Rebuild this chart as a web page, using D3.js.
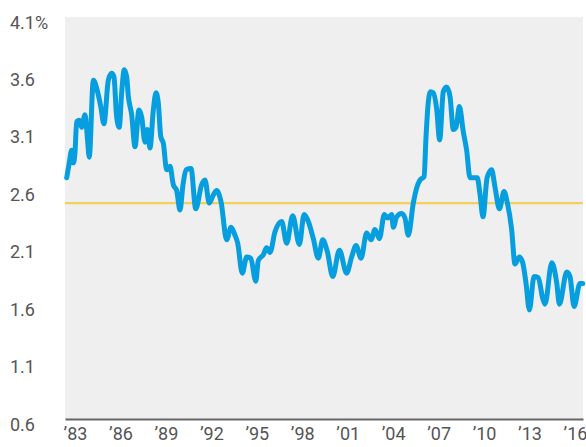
<!DOCTYPE html>
<html>
<head>
<meta charset="utf-8">
<script src="https://cdn.jsdelivr.net/npm/d3@7"></script>
<style>
  body { margin: 0; background: #fff; }
  svg text { font-family: "Liberation Sans Narrow", "Roboto", sans-serif; fill: #555; }
</style>
</head>
<body>
<div id="chart"></div>
<script>
// decimal year of each reading
var years = [
  1982.45, 1982.62, 1982.78, 1982.89, 1983.00, 1983.11, 1983.28, 1983.44, 1983.66, 1983.81,
  1983.94, 1984.21, 1984.47, 1984.70, 1984.91, 1985.20, 1985.42, 1985.57, 1985.75, 1985.92,
  1986.08, 1986.25, 1986.41, 1986.52, 1986.74, 1986.96, 1987.22, 1987.40, 1987.62, 1987.77,
  1987.95, 1988.17, 1988.35, 1988.50, 1988.66, 1988.83, 1989.05, 1989.27, 1989.49, 1989.71,
  1989.93, 1990.13, 1990.33, 1990.66, 1990.97, 1991.36, 1991.58, 1991.86, 1992.13, 1992.35,
  1992.64, 1993.01, 1993.30, 1993.56, 1993.74, 1994.04, 1994.33, 1994.60, 1994.93, 1995.10,
  1995.43, 1995.65, 1995.87, 1996.20, 1996.64, 1996.97, 1997.37, 1997.81, 1998.12, 1998.40,
  1998.73, 1999.06, 1999.35, 1999.65, 2000.01, 2000.45, 2000.93, 2001.26, 2001.55, 2001.88,
  2002.25, 2002.54, 2002.80, 2003.09, 2003.42, 2003.64, 2003.90, 2004.01, 2004.23, 2004.56,
  2004.78, 2005.00, 2005.33, 2005.55, 2005.77, 2006.04, 2006.17, 2006.32, 2006.47, 2006.65,
  2006.87, 2007.07, 2007.31, 2007.53, 2007.75, 2007.97, 2008.15, 2008.37, 2008.63, 2008.85,
  2009.07, 2009.34, 2009.55, 2009.73, 2009.93, 2010.20, 2010.50, 2010.72, 2011.01, 2011.32,
  2011.54, 2011.82, 2012.04, 2012.33, 2012.55, 2012.77, 2012.99, 2013.30, 2013.58, 2013.87,
  2014.02, 2014.47, 2014.80, 2014.97, 2015.46, 2015.67, 2015.94, 2016.33, 2016.51
];

// rate (%) at each reading
var rates = [
  2.70, 2.83, 2.94, 2.83, 2.92, 3.19, 3.20, 3.14, 3.25, 3.06,
  2.88, 3.55, 3.46, 3.32, 3.17, 3.55, 3.61, 3.58, 3.23, 3.14,
  3.44, 3.64, 3.58, 3.41, 3.25, 2.97, 3.29, 3.23, 3.01, 3.12,
  2.96, 3.29, 3.44, 3.35, 3.06, 3.00, 2.77, 2.80, 2.64, 2.59,
  2.42, 2.64, 2.77, 2.78, 2.43, 2.64, 2.68, 2.48, 2.55, 2.59,
  2.49, 2.16, 2.27, 2.20, 2.13, 1.87, 2.01, 2.00, 1.80, 1.98,
  2.03, 2.09, 2.05, 2.23, 2.32, 2.13, 2.37, 2.12, 2.38, 2.32,
  2.17, 2.00, 2.16, 2.06, 1.84, 2.07, 1.87, 2.01, 2.11, 2.00,
  2.22, 2.16, 2.25, 2.17, 2.38, 2.35, 2.38, 2.27, 2.36, 2.39,
  2.35, 2.20, 2.48, 2.61, 2.68, 2.71, 3.06, 3.36, 3.45, 3.44,
  3.30, 3.03, 3.45, 3.49, 3.41, 3.12, 3.14, 3.32, 3.10, 2.94,
  2.70, 2.70, 2.70, 2.56, 2.36, 2.70, 2.77, 2.62, 2.43, 2.58,
  2.48, 2.25, 1.95, 2.01, 1.96, 1.78, 1.55, 1.84, 1.83, 1.65,
  1.60, 1.96, 1.78, 1.60, 1.88, 1.84, 1.58, 1.78, 1.78
];

var average = 2.48;

var yTicks = [0.6, 1.1, 1.6, 2.1, 2.6, 3.1, 3.6, 4.1];
var xTicks = [1983, 1986, 1989, 1992, 1995, 1998, 2001, 2004, 2007, 2010, 2013, 2016];

var width = 586, height = 447;
var plot = { left: 65, right: 583, top: 17, bottom: 419 };

var svg = d3.select("#chart").append("svg")
  .attr("width", width)
  .attr("height", height);

var x = d3.scaleLinear().domain([1982.34, 2016.53]).range([plot.left, plot.right]);
var y = d3.scaleLinear().domain([0.6, 4.1]).range([plot.bottom, plot.top]);

// grey plot area
svg.append("rect")
  .attr("x", plot.left)
  .attr("y", plot.top)
  .attr("width", plot.right - plot.left)
  .attr("height", plot.bottom - plot.top)
  .attr("fill", "#efefef");

// y labels, left aligned
svg.append("g").selectAll("text")
  .data(yTicks)
  .enter()
  .append("text")
  .attr("x", 10)
  .attr("y", function (d) { return y(d) + 5; })
  .attr("dominant-baseline", "central")
  .style("font-size", "18px")
  .text(function (d, i) { return d.toFixed(1) + (i == yTicks.length - 1 ? "%" : ""); });

// average line
svg.append("line")
  .attr("x1", plot.left)
  .attr("x2", plot.right)
  .attr("y1", y(average))
  .attr("y2", y(average))
  .attr("stroke", "#f3cf5b")
  .attr("stroke-width", 2.2);

var data = years.map(function (d, i) { return { year: d, rate: rates[i] }; });

var line = d3.line()
  .x(function (d) { return x(d.year); })
  .y(function (d) { return y(d.rate); })
  .curve(d3.curveMonotoneX);

svg.append("path")
  .datum(data)
  .attr("d", line)
  .attr("fill", "none")
  .attr("stroke", "#079edf")
  .attr("stroke-width", 5)
  .attr("stroke-linejoin", "round")
  .attr("stroke-linecap", "round");

// x axis
var xAxis = d3.axisBottom(x)
  .tickValues(xTicks)
  .tickSize(0)
  .tickSizeOuter(0)
  .tickPadding(8)
  .tickFormat(function (d) { return "\u2019" + String(d).slice(2); });

var gx = svg.append("g")
  .attr("transform", "translate(0," + plot.bottom + ")")
  .call(xAxis);

gx.select(".domain").attr("stroke", "#666").attr("stroke-width", 2);
gx.selectAll("text")
  .style("font-size", "18px")
  .style("font-family", "'Liberation Sans Narrow', Roboto, sans-serif")
  .attr("fill", "#555");
</script>
</body>
</html>
